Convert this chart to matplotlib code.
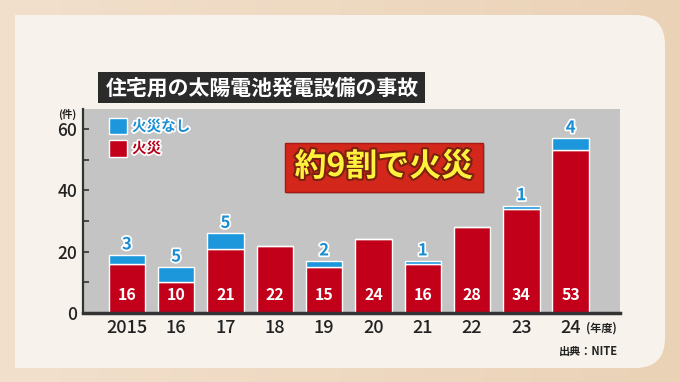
import numpy as np
import matplotlib
matplotlib.use("Agg")
import matplotlib.pyplot as plt
import matplotlib.patheffects as pe
from matplotlib.patches import Rectangle, FancyBboxPatch

plt.rcParams['font.family'] = ['Noto Sans CJK JP', 'DejaVu Sans']

# data
years = ['2015', '16', '17', '18', '19', '20', '21', '22', '23', '24']
fire = [16, 10, 21, 22, 15, 24, 16, 28, 34, 53]
no_fire = [3, 5, 5, 0, 2, 0, 1, 0, 1, 4]

title = '住宅用の太陽電池発電設備の事故'
callout = '約9割で火災'

red = '#c20019'
blue = '#1c97dc'
blue_txt = '#1a8ed2'
gray = '#c4c4c4'
dark = '#2e2e2e'

W, H = 680, 382
fig = plt.figure(figsize=(W / 100, H / 100), dpi=100)

# background (pixel coords)
bg = fig.add_axes([0, 0, 1, 1], zorder=0)
bg.set_xlim(0, W)
bg.set_ylim(H, 0)
bg.axis('off')
grad = np.linspace(0, 1, 256)[None, :]
bg.imshow(grad, extent=[0, W, H, 0], aspect='auto',
          cmap=matplotlib.colors.LinearSegmentedColormap.from_list('g', ['#f2e0cd', '#ead2b6']))
panel = FancyBboxPatch((15, 15), 650, 353, boxstyle='round,pad=0,rounding_size=30',
                       fc='#f7f3ec', ec='none')
bg.add_patch(panel)
bg.add_patch(Rectangle((15, 15), 60, 353, fc='#f7f3ec', ec='none'))
bg.add_patch(Rectangle((98, 72), 327, 31, fc='#2b2b2b', ec='none'))
bg.text(262, 88, title, color='white', fontsize=15, fontweight='bold',
        ha='center', va='center')

# main chart
ax = fig.add_axes([83 / W, (H - 313) / H, (620 - 83) / W, (313 - 109) / H], zorder=2)
ax.set_facecolor(gray)
x = np.arange(len(years))
ax.bar(x, fire, width=0.74, color=red, edgecolor='white', linewidth=1, zorder=2)
ax.bar(x, no_fire, bottom=fire, width=0.74, color=blue, edgecolor='white',
       linewidth=1, zorder=2)

ax.set_xlim(-0.89, 10.0)
ax.set_ylim(0, 66.5)
ax.set_yticks([0, 20, 40, 60])
ax.set_yticks([10, 30, 50], minor=True)
ax.set_xticks(x)
ax.set_xticklabels(years)
ax.tick_params(axis='x', length=0, pad=4, labelsize=13, labelcolor='#222')
ax.tick_params(axis='y', which='both', direction='in', length=4, width=1.2,
               color='#333', labelsize=12.5, labelcolor='#222', pad=4)
for lab in ax.get_xticklabels() + ax.get_yticklabels():
    lab.set_fontweight('medium')
for s in ['top', 'right']:
    ax.spines[s].set_visible(False)
ax.spines['left'].set_linewidth(1.6)
ax.spines['left'].set_color('#333')
ax.spines['bottom'].set_linewidth(2.5)
ax.spines['bottom'].set_color('#333')

outline = [pe.withStroke(linewidth=2.5, foreground='white')]
for i in x:
    ax.text(i, 6, str(fire[i]), color='white', fontsize=11.5, fontweight='bold',
            ha='center', va='center', zorder=3)
    if no_fire[i]:
        ax.annotate(str(no_fire[i]), (i, fire[i] + no_fire[i]), xytext=(0, 1),
                    textcoords='offset points', ha='center', va='bottom',
                    color=blue_txt, fontsize=12, fontweight='bold',
                    path_effects=outline, zorder=3)

# overlay (pixel coords)
ov = fig.add_axes([0, 0, 1, 1], zorder=5)
ov.set_xlim(0, W)
ov.set_ylim(H, 0)
ov.axis('off')
ov.patch.set_alpha(0)

ov.add_patch(Rectangle((109, 118), 18, 16, fc=blue, ec='white', lw=1))
ov.add_patch(Rectangle((109, 140), 18, 17, fc=red, ec='white', lw=1))
ov.text(132, 126, '火災なし', color=blue_txt, fontsize=10.5, fontweight='bold',
        va='center', path_effects=outline)
ov.text(132, 148, '火災', color='#b50018', fontsize=10.5, fontweight='bold',
        va='center', path_effects=outline)

ov.add_patch(Rectangle((287, 145), 198, 49, fc='#8a8a8a', ec='none', alpha=0.5))
ov.add_patch(Rectangle((285, 143), 198, 49, fc='#d3271b', ec='#a81a10', lw=1))
ov.text(384, 167, callout, color='#fff23c', fontsize=23, fontweight='bold',
        ha='center', va='center',
        path_effects=[pe.withStroke(linewidth=3, foreground='#7a2210')])

ov.text(67, 114, '(件)', color='#222', fontsize=7.5, fontweight='bold',
        ha='center', va='center')
ov.text(586, 328, '(年度)', color='#222', fontsize=8, fontweight='bold',
        ha='left', va='center')
ov.text(618, 351, '出典：NITE', color='#222', fontsize=8, fontweight='bold',
        ha='right', va='center')

fig.savefig('out.png', dpi=100)
